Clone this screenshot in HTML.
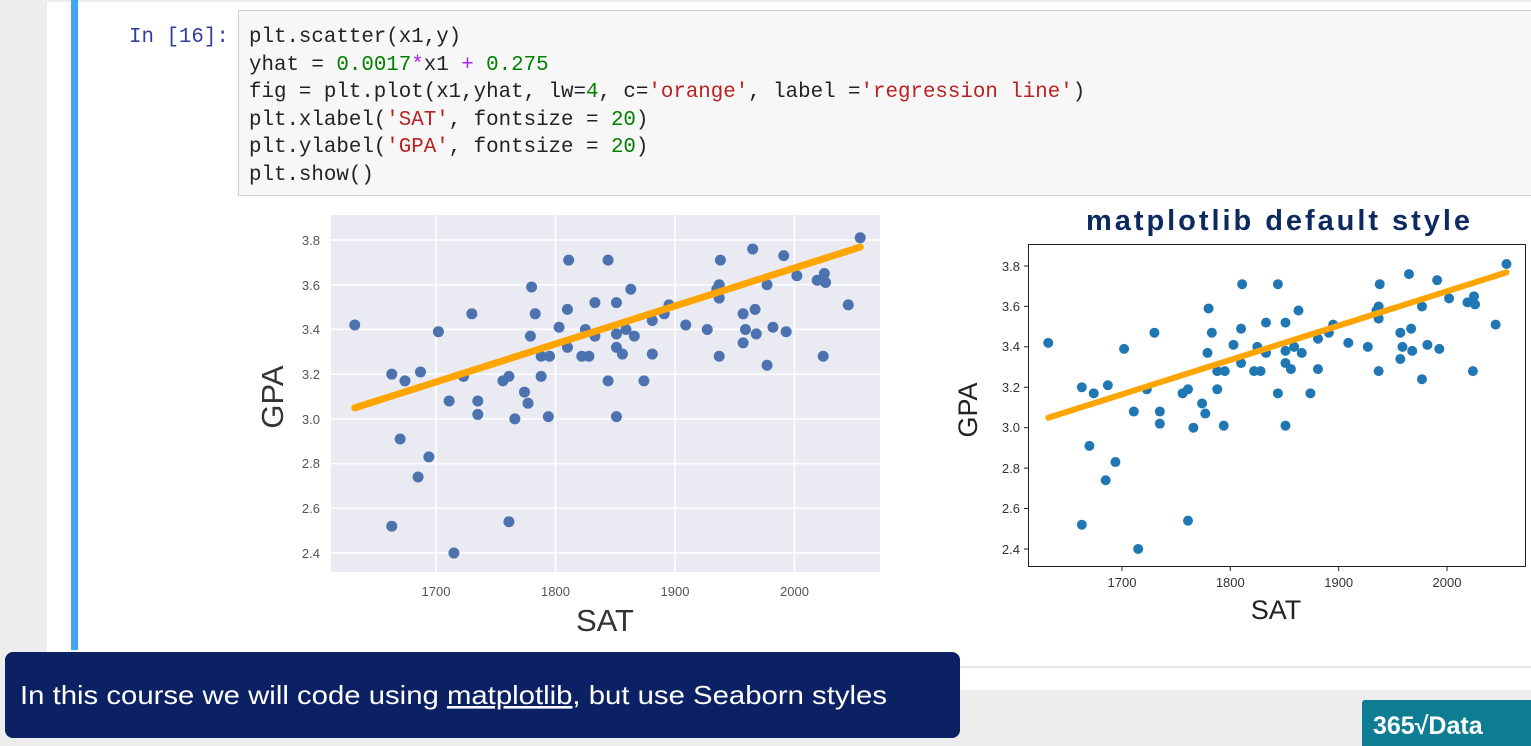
<!DOCTYPE html>
<html><head><meta charset="utf-8"><style>
html,body{margin:0;padding:0;background:#ededed;}
svg{display:block;}
</style></head><body>
<svg width="1531" height="746" viewBox="0 0 1531 746" xmlns="http://www.w3.org/2000/svg" xmlns:xlink="http://www.w3.org/1999/xlink">
<defs>
<circle id="dL" r="5.5" fill="#4c72b0" transform="scale(0.83682 -0.0044723)"/>
<circle id="dR" r="5" fill="#1f77b4" transform="scale(0.92311 -0.0049480)"/>
</defs>
<rect x="47" y="2" width="1484" height="688" fill="#ffffff"/>
<rect x="71" y="0" width="7" height="650" fill="#42a5f5"/>
<line x1="78" y1="667" x2="1531" y2="667" stroke="#cfcfcf" stroke-width="1"/>
<rect x="238.5" y="10.5" width="1300" height="185" fill="#f7f7f7" stroke="#cfcfcf"/>
<g font-family="Liberation Mono, monospace" font-size="20.8" fill="#222">
<text x="129" y="42" fill="#303f9f">In [16]:</text>
<text x="249" y="42">plt.scatter(x1,y)</text>
<text x="249" y="70">yhat = <tspan fill="#008000">0.0017</tspan><tspan fill="#aa22ff">*</tspan>x1 <tspan fill="#aa22ff">+</tspan> <tspan fill="#008000">0.275</tspan></text>
<text x="249" y="97">fig = plt.plot(x1,yhat, lw=<tspan fill="#008000">4</tspan>, c=<tspan fill="#ba2121">'orange'</tspan>, label =<tspan fill="#ba2121">'regression line'</tspan>)</text>
<text x="249" y="125">plt.xlabel(<tspan fill="#ba2121">'SAT'</tspan>, fontsize = <tspan fill="#008000">20</tspan>)</text>
<text x="249" y="152">plt.ylabel(<tspan fill="#ba2121">'GPA'</tspan>, fontsize = <tspan fill="#008000">20</tspan>)</text>
<text x="249" y="180">plt.show()</text>
</g>
<!-- LEFT -->
<rect x="331" y="215" width="549" height="357" fill="#eaeaf2"/>
<g stroke="#ffffff" stroke-width="1.5">
<line x1="436" y1="215" x2="436" y2="572"/><line x1="555.5" y1="215" x2="555.5" y2="572"/>
<line x1="675" y1="215" x2="675" y2="572"/><line x1="794.5" y1="215" x2="794.5" y2="572"/>
<line x1="331" y1="240" x2="880" y2="240"/><line x1="331" y1="284.7" x2="880" y2="284.7"/>
<line x1="331" y1="329.4" x2="880" y2="329.4"/><line x1="331" y1="374.2" x2="880" y2="374.2"/>
<line x1="331" y1="418.9" x2="880" y2="418.9"/><line x1="331" y1="463.6" x2="880" y2="463.6"/>
<line x1="331" y1="508.3" x2="880" y2="508.3"/><line x1="331" y1="553" x2="880" y2="553"/>
</g>
<g transform="matrix(1.195 0 0 -223.6 -1595.5 1089.7)">
<use href="#dL" x="1632" y="3.42"/><use href="#dL" x="1663" y="3.20"/><use href="#dL" x="1674" y="3.17"/><use href="#dL" x="1687" y="3.21"/><use href="#dL" x="1670" y="2.91"/><use href="#dL" x="1694" y="2.83"/><use href="#dL" x="1685" y="2.74"/><use href="#dL" x="1663" y="2.52"/><use href="#dL" x="1715" y="2.40"/><use href="#dL" x="1702" y="3.39"/><use href="#dL" x="1711" y="3.08"/><use href="#dL" x="1723" y="3.19"/><use href="#dL" x="1730" y="3.47"/><use href="#dL" x="1735" y="3.08"/><use href="#dL" x="1735" y="3.02"/><use href="#dL" x="1756" y="3.17"/><use href="#dL" x="1761" y="3.19"/><use href="#dL" x="1761" y="2.54"/><use href="#dL" x="1766" y="3.00"/><use href="#dL" x="1774" y="3.12"/><use href="#dL" x="1777" y="3.07"/><use href="#dL" x="1779" y="3.37"/><use href="#dL" x="1780" y="3.59"/><use href="#dL" x="1783" y="3.47"/><use href="#dL" x="1788" y="3.19"/><use href="#dL" x="1788" y="3.28"/><use href="#dL" x="1794" y="3.01"/><use href="#dL" x="1795" y="3.28"/><use href="#dL" x="1803" y="3.41"/><use href="#dL" x="1810" y="3.49"/><use href="#dL" x="1810" y="3.32"/><use href="#dL" x="1811" y="3.71"/><use href="#dL" x="1822" y="3.28"/><use href="#dL" x="1825" y="3.40"/><use href="#dL" x="1828" y="3.28"/><use href="#dL" x="1833" y="3.37"/><use href="#dL" x="1833" y="3.52"/><use href="#dL" x="1844" y="3.71"/><use href="#dL" x="1844" y="3.17"/><use href="#dL" x="1851" y="3.52"/><use href="#dL" x="1851" y="3.38"/><use href="#dL" x="1851" y="3.32"/><use href="#dL" x="1851" y="3.01"/><use href="#dL" x="1856" y="3.29"/><use href="#dL" x="1859" y="3.40"/><use href="#dL" x="1863" y="3.58"/><use href="#dL" x="1866" y="3.37"/><use href="#dL" x="1874" y="3.17"/><use href="#dL" x="1881" y="3.29"/><use href="#dL" x="1881" y="3.44"/><use href="#dL" x="1891" y="3.47"/><use href="#dL" x="1895" y="3.51"/><use href="#dL" x="1909" y="3.42"/><use href="#dL" x="1927" y="3.40"/><use href="#dL" x="1937" y="3.28"/><use href="#dL" x="1937" y="3.54"/><use href="#dL" x="1937" y="3.60"/><use href="#dL" x="1938" y="3.71"/><use href="#dL" x="1935" y="3.58"/><use href="#dL" x="1957" y="3.47"/><use href="#dL" x="1957" y="3.34"/><use href="#dL" x="1959" y="3.40"/><use href="#dL" x="1965" y="3.76"/><use href="#dL" x="1967" y="3.49"/><use href="#dL" x="1968" y="3.38"/><use href="#dL" x="1977" y="3.24"/><use href="#dL" x="1977" y="3.60"/><use href="#dL" x="1982" y="3.41"/><use href="#dL" x="1991" y="3.73"/><use href="#dL" x="1993" y="3.39"/><use href="#dL" x="2002" y="3.64"/><use href="#dL" x="2019" y="3.62"/><use href="#dL" x="2025" y="3.65"/><use href="#dL" x="2026" y="3.61"/><use href="#dL" x="2024" y="3.28"/><use href="#dL" x="2045" y="3.51"/><use href="#dL" x="2055" y="3.81"/>
<line x1="1632" y1="3.0494" x2="2055" y2="3.7685" stroke="#ffa500" stroke-width="7" stroke-linecap="round" vector-effect="non-scaling-stroke"/>
</g>
<g font-family="Liberation Sans, sans-serif" font-size="13" fill="#555" text-anchor="end">
<text x="320" y="245">3.8</text><text x="320" y="290">3.6</text><text x="320" y="334">3.4</text>
<text x="320" y="379">3.2</text><text x="320" y="424">3.0</text><text x="320" y="468">2.8</text>
<text x="320" y="513">2.6</text><text x="320" y="558">2.4</text>
</g>
<g font-family="Liberation Sans, sans-serif" font-size="13" fill="#555" text-anchor="middle">
<text x="436" y="596">1700</text><text x="555.5" y="596">1800</text><text x="675" y="596">1900</text><text x="794.5" y="596">2000</text>
</g>
<text x="605" y="631" font-family="Liberation Sans, sans-serif" font-size="31" fill="#333" text-anchor="middle">SAT</text>
<text transform="translate(283 397) rotate(-90)" font-family="Liberation Sans, sans-serif" font-size="31" fill="#333" text-anchor="middle">GPA</text>
<!-- RIGHT -->
<text x="1278" y="230" font-family="Liberation Sans, sans-serif" font-size="29" font-weight="bold" fill="#0d2a5f" text-anchor="middle" textLength="384">matplotlib default style</text>
<rect x="1028.5" y="244.5" width="497" height="322" fill="#fff" stroke="#222" stroke-width="1"/>
<g transform="matrix(1.0833 0 0 -202.1 -719.7 1034)">
<use href="#dR" x="1632" y="3.42"/><use href="#dR" x="1663" y="3.20"/><use href="#dR" x="1674" y="3.17"/><use href="#dR" x="1687" y="3.21"/><use href="#dR" x="1670" y="2.91"/><use href="#dR" x="1694" y="2.83"/><use href="#dR" x="1685" y="2.74"/><use href="#dR" x="1663" y="2.52"/><use href="#dR" x="1715" y="2.40"/><use href="#dR" x="1702" y="3.39"/><use href="#dR" x="1711" y="3.08"/><use href="#dR" x="1723" y="3.19"/><use href="#dR" x="1730" y="3.47"/><use href="#dR" x="1735" y="3.08"/><use href="#dR" x="1735" y="3.02"/><use href="#dR" x="1756" y="3.17"/><use href="#dR" x="1761" y="3.19"/><use href="#dR" x="1761" y="2.54"/><use href="#dR" x="1766" y="3.00"/><use href="#dR" x="1774" y="3.12"/><use href="#dR" x="1777" y="3.07"/><use href="#dR" x="1779" y="3.37"/><use href="#dR" x="1780" y="3.59"/><use href="#dR" x="1783" y="3.47"/><use href="#dR" x="1788" y="3.19"/><use href="#dR" x="1788" y="3.28"/><use href="#dR" x="1794" y="3.01"/><use href="#dR" x="1795" y="3.28"/><use href="#dR" x="1803" y="3.41"/><use href="#dR" x="1810" y="3.49"/><use href="#dR" x="1810" y="3.32"/><use href="#dR" x="1811" y="3.71"/><use href="#dR" x="1822" y="3.28"/><use href="#dR" x="1825" y="3.40"/><use href="#dR" x="1828" y="3.28"/><use href="#dR" x="1833" y="3.37"/><use href="#dR" x="1833" y="3.52"/><use href="#dR" x="1844" y="3.71"/><use href="#dR" x="1844" y="3.17"/><use href="#dR" x="1851" y="3.52"/><use href="#dR" x="1851" y="3.38"/><use href="#dR" x="1851" y="3.32"/><use href="#dR" x="1851" y="3.01"/><use href="#dR" x="1856" y="3.29"/><use href="#dR" x="1859" y="3.40"/><use href="#dR" x="1863" y="3.58"/><use href="#dR" x="1866" y="3.37"/><use href="#dR" x="1874" y="3.17"/><use href="#dR" x="1881" y="3.29"/><use href="#dR" x="1881" y="3.44"/><use href="#dR" x="1891" y="3.47"/><use href="#dR" x="1895" y="3.51"/><use href="#dR" x="1909" y="3.42"/><use href="#dR" x="1927" y="3.40"/><use href="#dR" x="1937" y="3.28"/><use href="#dR" x="1937" y="3.54"/><use href="#dR" x="1937" y="3.60"/><use href="#dR" x="1938" y="3.71"/><use href="#dR" x="1935" y="3.58"/><use href="#dR" x="1957" y="3.47"/><use href="#dR" x="1957" y="3.34"/><use href="#dR" x="1959" y="3.40"/><use href="#dR" x="1965" y="3.76"/><use href="#dR" x="1967" y="3.49"/><use href="#dR" x="1968" y="3.38"/><use href="#dR" x="1977" y="3.24"/><use href="#dR" x="1977" y="3.60"/><use href="#dR" x="1982" y="3.41"/><use href="#dR" x="1991" y="3.73"/><use href="#dR" x="1993" y="3.39"/><use href="#dR" x="2002" y="3.64"/><use href="#dR" x="2019" y="3.62"/><use href="#dR" x="2025" y="3.65"/><use href="#dR" x="2026" y="3.61"/><use href="#dR" x="2024" y="3.28"/><use href="#dR" x="2045" y="3.51"/><use href="#dR" x="2055" y="3.81"/>
<line x1="1632" y1="3.0494" x2="2055" y2="3.7685" stroke="#ffa500" stroke-width="6" stroke-linecap="round" vector-effect="non-scaling-stroke"/>
</g>
<g stroke="#222" stroke-width="1">
<line x1="1024" y1="266" x2="1028" y2="266"/><line x1="1024" y1="306.4" x2="1028" y2="306.4"/>
<line x1="1024" y1="346.8" x2="1028" y2="346.8"/><line x1="1024" y1="387.3" x2="1028" y2="387.3"/>
<line x1="1024" y1="427.7" x2="1028" y2="427.7"/><line x1="1024" y1="468.1" x2="1028" y2="468.1"/>
<line x1="1024" y1="508.5" x2="1028" y2="508.5"/><line x1="1024" y1="549" x2="1028" y2="549"/>
<line x1="1122" y1="567" x2="1122" y2="571"/><line x1="1230.3" y1="567" x2="1230.3" y2="571"/>
<line x1="1338.7" y1="567" x2="1338.7" y2="571"/><line x1="1447" y1="567" x2="1447" y2="571"/>
</g>
<g font-family="Liberation Sans, sans-serif" font-size="13" fill="#333" text-anchor="end">
<text x="1020" y="271">3.8</text><text x="1020" y="311">3.6</text><text x="1020" y="351">3.4</text>
<text x="1020" y="392">3.2</text><text x="1020" y="432">3.0</text><text x="1020" y="473">2.8</text>
<text x="1020" y="513">2.6</text><text x="1020" y="554">2.4</text>
</g>
<g font-family="Liberation Sans, sans-serif" font-size="13" fill="#333" text-anchor="middle">
<text x="1122" y="587">1700</text><text x="1230.3" y="587">1800</text><text x="1338.7" y="587">1900</text><text x="1447" y="587">2000</text>
</g>
<text x="1276" y="619" font-family="Liberation Sans, sans-serif" font-size="27" fill="#222" text-anchor="middle">SAT</text>
<text transform="translate(977 410) rotate(-90)" font-family="Liberation Sans, sans-serif" font-size="27" fill="#222" text-anchor="middle">GPA</text>
<!-- banner -->
<rect x="5" y="652" width="955" height="86" rx="8" fill="#0b2163"/>
<text x="20" y="704" font-family="Liberation Sans, sans-serif" font-size="26" fill="#fff" textLength="867" lengthAdjust="spacingAndGlyphs">In this course we will code using <tspan text-decoration="underline">matplotlib</tspan>, but use Seaborn styles</text>
<rect x="1362" y="700" width="175" height="50" rx="3" fill="#0e7c93"/>
<text x="1373" y="734" font-family="Liberation Sans, sans-serif" font-size="25" font-weight="bold" fill="#fff">365√Data</text>
</svg>
</body></html>
